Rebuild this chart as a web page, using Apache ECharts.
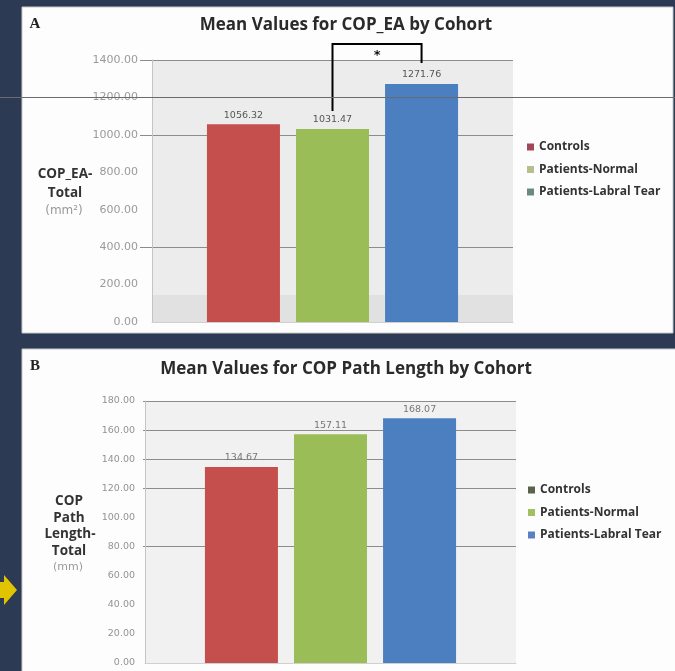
<!DOCTYPE html>
<html>
<head>
<meta charset="utf-8">
<script src="https://cdn.jsdelivr.net/npm/echarts@6/dist/echarts.min.js"></script>
<style>html,body{margin:0;padding:0;background:#2d3a54;}#c{width:675px;height:671px;}</style>
</head>
<body>
<div id="c"></div>
<script>
// ---- data ----
const cohorts = ['Controls', 'Patients-Normal', 'Patients-Labral Tear'];
const eaValues = [1056.32, 1031.47, 1271.76];
const pathValues = [134.67, 157.11, 168.07];
const eaAxis = { min: 0, max: 1400, interval: 200 };
const pathAxis = { min: 0, max: 180, interval: 20 };
const titleA = 'Mean Values for COP_EA by Cohort';
const titleB = 'Mean Values for COP Path Length by Cohort';

// ---- styles ----
const barColors = ['#c44f4c', '#9bbd57', '#4b7fc0'];
const legendColorsA = ['#a04858', '#b3c08a', '#6a8a80'];
const legendColorsB = ['#5a634a', '#a3c060', '#5a80c0'];
const gridLine = '#8c8c8c';
const T = 'rgba(0,0,0,0)';
const BAR_W = 73, BAR_GAP = 0.22;

const chart = echarts.init(document.getElementById('c'), null, { renderer: 'canvas' });

function barSeries(values, axisIdx, labelColor) {
  return cohorts.map((name, i) => ({
    name: name,
    type: 'bar',
    xAxisIndex: axisIdx,
    yAxisIndex: axisIdx,
    data: [values[i]],
    barWidth: BAR_W,
    barGap: (BAR_GAP * 100) + '%',
    z: 2,
    itemStyle: { color: barColors[i] },
    label: {
      show: true, position: 'top', distance: 4,
      formatter: p => p.value.toFixed(2),
      fontFamily: 'DejaVu Sans', fontSize: 9.5, color: labelColor
    }
  }));
}

function valueAxis(gridIndex, ax, opts) {
  return Object.assign({
    type: 'value', gridIndex: gridIndex,
    min: ax.min, max: ax.max, interval: ax.interval,
    axisTick: { show: false },
    axisLine: { show: false },
    splitLine: { show: false },
    axisLabel: { show: false }
  }, opts);
}

const legendText = { fontFamily: 'Open Sans', fontWeight: 'bold', fontSize: 12, color: '#333', lineHeight: 14 };

const option = {
  backgroundColor: '#2d3a54',
  animation: false,
  grid: [
    { left: 152, right: 162, top: 60, height: 262 },   // A bars
    { left: 145, right: 159, top: 401, height: 262 },  // B bars
    { left: 140, right: 162, top: 60, height: 262 },   // A gridlines
    { left: 143, right: 159, top: 401, height: 262 }   // B gridlines
  ],
  xAxis: [0, 1, 2, 3].map(g => ({
    type: 'category', gridIndex: g, data: [''],
    axisLine: { show: g < 2, lineStyle: { color: '#d0d0d0' } },
    axisTick: { show: false }, axisLabel: { show: false }, splitLine: { show: false }
  })),
  yAxis: [
    valueAxis(0, eaAxis, {
      axisLine: { show: true, lineStyle: { color: '#c4c4c4' } },
      axisLabel: { show: true, margin: 14, formatter: v => v.toFixed(2),
        fontFamily: 'DejaVu Sans', fontSize: 11, color: '#9a9a9a' }
    }),
    valueAxis(1, pathAxis, {
      axisLine: { show: true, lineStyle: { color: '#c4c4c4' } },
      axisLabel: { show: true, margin: 10, formatter: v => v.toFixed(2),
        fontFamily: 'DejaVu Sans', fontSize: 9.5, color: '#939393' }
    }),
    valueAxis(2, eaAxis, {
      splitLine: { show: true, lineStyle: { width: 1, color: [T, T, gridLine, T, T, gridLine, gridLine, gridLine] } }
    }),
    valueAxis(3, pathAxis, {
      splitLine: { show: true, lineStyle: { width: 1, color: [T, T, T, T, gridLine, T, gridLine, gridLine, gridLine, gridLine] } }
    })
  ],
  legend: [
    {
      orient: 'vertical', left: 522, top: 135, itemWidth: 7, itemHeight: 7, itemGap: 8.5,
      icon: 'rect', itemStyle: {}, textStyle: legendText,
      data: cohorts.map((n, i) => ({ name: n, itemStyle: { color: legendColorsA[i] } }))
    },
    {
      orient: 'vertical', left: 523, top: 478, itemWidth: 7, itemHeight: 7, itemGap: 8.5,
      icon: 'rect', textStyle: legendText,
      data: cohorts.map((n, i) => ({ name: n, itemStyle: { color: legendColorsB[i] } }))
    }
  ],
  series: barSeries(eaValues, 0, '#555').concat(barSeries(pathValues, 1, '#777'))
};
chart.setOption(option);

// ---- annotations placed through the axes ----
const yA = v => chart.convertToPixel({ yAxisIndex: 0 }, v);
const yB = v => chart.convertToPixel({ yAxisIndex: 1 }, v);
const cxA = chart.convertToPixel({ xAxisIndex: 0 }, '');
const step = BAR_W * (1 + BAR_GAP);
const gA = [152, 513], gB = [145, 516];

const greenX = cxA, blueX = cxA + step;
const bracketTop = yA(eaAxis.max) - 16;

const text = (x, y, t, style) => ({ type: 'text', x: x, y: y, z: 20,
  style: Object.assign({ text: t, align: 'center', verticalAlign: 'middle', fill: '#333' }, style) });

const nameFont = 'bold 13.5px "Open Sans"';

chart.setOption({
  graphic: [
    // panels
    { type: 'rect', z: -20, shape: { x: 22, y: 7, width: 651, height: 326 }, style: { fill: '#fdfdfd', stroke: '#c8c8c8', lineWidth: 1 } },
    { type: 'rect', z: -20, shape: { x: 22, y: 349, width: 656, height: 326 }, style: { fill: '#fdfdfd', stroke: '#c8c8c8', lineWidth: 1 } },
    // plot backgrounds
    { type: 'rect', z: -10, shape: { x: gA[0], y: yA(eaAxis.max), width: gA[1] - gA[0], height: yA(0) - yA(eaAxis.max) }, style: { fill: '#ececec' } },
    { type: 'rect', z: -9, shape: { x: gA[0], y: yA(0) - 27, width: gA[1] - gA[0], height: 27 }, style: { fill: '#e1e1e1' } },
    { type: 'rect', z: -10, shape: { x: gB[0], y: yB(pathAxis.max), width: gB[1] - gB[0], height: yB(0) - yB(pathAxis.max) }, style: { fill: '#f1f1f1' } },
    // seam line across panel A at 1200
    { type: 'line', z: 30, shape: { x1: 0, y1: Math.round(yA(1200)) + 0.5, x2: 675, y2: Math.round(yA(1200)) + 0.5 }, style: { stroke: '#6a6a72', lineWidth: 1 } },
    // significance bracket
    { type: 'polyline', z: 25, shape: { points: [[greenX, yA(eaValues[1]) - 18], [greenX, bracketTop], [blueX, bracketTop], [blueX, yA(eaValues[2]) - 21]] }, style: { stroke: '#000', lineWidth: 2, fill: null } },
    text((greenX + blueX) / 2, bracketTop + 12, '*', { font: 'bold 13px "DejaVu Sans"', fill: '#111' }),
    // panel letters
    text(35, 24, 'A', { font: 'bold 15px "Liberation Serif"', fill: '#222' }),
    text(35, 366, 'B', { font: 'bold 15px "Liberation Serif"', fill: '#222' }),
    // titles
    text(346, 25, titleA, { font: 'bold 17px "Open Sans"', fill: '#2a2a2a' }),
    text(346, 369, titleB, { font: 'bold 17px "Open Sans"', fill: '#2a2a2a' }),
    // y axis names
    text(65, 174, 'COP_EA-', { font: nameFont, fill: '#333' }),
    text(65, 193, 'Total', { font: nameFont, fill: '#333' }),
    text(64, 211, '(mm\u00b2)', { font: '12px "DejaVu Sans"', fill: '#999' }),
    text(69, 501, 'COP', { font: nameFont, fill: '#333' }),
    text(69, 518, 'Path', { font: nameFont, fill: '#333' }),
    text(70, 534, 'Length-', { font: nameFont, fill: '#333' }),
    text(69, 551, 'Total', { font: nameFont, fill: '#333' }),
    text(68, 567, '(mm)', { font: '11px "DejaVu Sans"', fill: '#999' }),
    // yellow arrow
    { type: 'polygon', z: 20, shape: { points: [[0, 582], [4, 582], [4, 575], [17, 590], [4, 605], [4, 598], [0, 598]] }, style: { fill: '#e2c300' } }
  ]
});
</script>
</body>
</html>
